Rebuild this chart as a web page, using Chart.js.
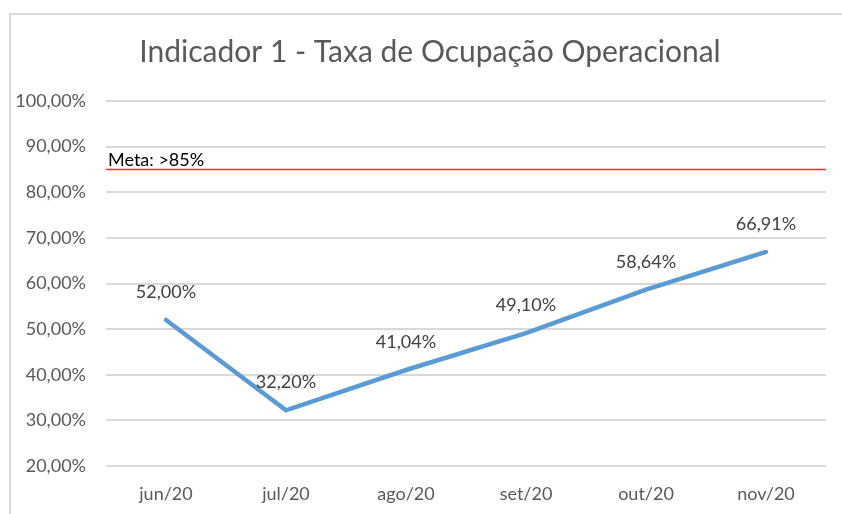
<!DOCTYPE html>
<html><head><meta charset="utf-8">
<script src="https://cdn.jsdelivr.net/npm/chart.js@4.4.0/dist/chart.umd.min.js"></script>
<style>html,body{margin:0;padding:0;background:#fff;}#wrap{width:842px;height:514px;}</style>
</head><body><div id="wrap"><canvas id="c" width="842" height="514"></canvas></div>
<script>
const categories = ["jun/20","jul/20","ago/20","set/20","out/20","nov/20"];
const occupancy = [52.00, 32.20, 41.04, 49.10, 58.64, 66.91];
const yTicks = [20,30,40,50,60,70,80,90,100];
const metaValue = [85];
const metaLabel = ["Meta: >85%"];
const titleText = "Indicador 1 - Taxa de Ocupação Operacional";

const fmt = v => v.toFixed(2).replace('.', ',') + '%';
const FONT = "Lato";

const framePlugin = {
  id: 'frame',
  beforeDraw(chart) {
    const ctx = chart.ctx;
    ctx.save();
    ctx.strokeStyle = '#d9d9d9';
    ctx.lineWidth = 2;
    ctx.strokeRect(10, 14, 900, 600);
    ctx.fillStyle = '#595959';
    ctx.font = '30px ' + FONT;
    ctx.textAlign = 'center'; ctx.textBaseline = 'middle';
    ctx.fillText(titleText, 430, 52);
    ctx.restore();
  }
};

const metaPlugin = {
  id: 'meta',
  afterDatasetsDraw(chart) {
    const ctx = chart.ctx, y = chart.scales.y, a = chart.chartArea;
    const py = Math.round(y.getPixelForValue(metaValue[0])) + 0.5;
    ctx.save();
    ctx.strokeStyle = '#ff2a2a';
    ctx.lineWidth = 1.5;
    ctx.beginPath(); ctx.moveTo(a.left, py); ctx.lineTo(a.right, py); ctx.stroke();
    ctx.fillStyle = '#000000';
    ctx.font = '18px ' + FONT;
    ctx.textAlign = 'left'; ctx.textBaseline = 'alphabetic';
    ctx.fillText(metaLabel[0], a.left + 2, py - 4);
    ctx.restore();
  }
};

const labelPlugin = {
  id: 'dlabels',
  afterDatasetsDraw(chart) {
    const ctx = chart.ctx;
    const meta = chart.getDatasetMeta(0);
    ctx.save();
    ctx.fillStyle = '#404040';
    ctx.font = '18px ' + FONT;
    ctx.textAlign = 'center'; ctx.textBaseline = 'middle';
    meta.data.forEach((pt, i) => {
      ctx.fillText(fmt(occupancy[i]), pt.x, pt.y - 28);
    });
    ctx.restore();
  }
};

new Chart(document.getElementById('c'), {
  type: 'line',
  data: {
    labels: categories,
    datasets: [{
      data: occupancy,
      borderColor: '#5b9bd5',
      borderWidth: 4.5,
      pointRadius: 0,
      tension: 0,
      borderCapStyle: 'round',
      borderJoinStyle: 'miter'
    }]
  },
  options: {
    responsive: false,
    animation: false,
    layout: { padding: { left: 0, right: 16, top: 101, bottom: 0 } },
    plugins: {
      legend: { display: false },
      tooltip: { enabled: false },
      title: { display: false }
    },
    scales: {
      x: {
        offset: true,
        grid: { display: false, drawTicks: false },
        border: { display: false },
        ticks: { color: '#595959', font: { family: FONT, size: 18 }, padding: 17, maxRotation: 0 },
        afterFit(s) { s.height = 48; }
      },
      y: {
        min: 20, max: 100,
        afterBuildTicks(s) { s.ticks = yTicks.map(v => ({ value: v })); },
        grid: { color: '#d9d9d9', lineWidth: 2, drawTicks: false },
        border: { display: false },
        ticks: { color: '#595959', font: { family: FONT, size: 18 }, padding: 20, callback: v => fmt(v) },
        afterFit(s) { s.width = 106; }
      }
    }
  },
  plugins: [framePlugin, metaPlugin, labelPlugin]
});
</script>
</body></html>
